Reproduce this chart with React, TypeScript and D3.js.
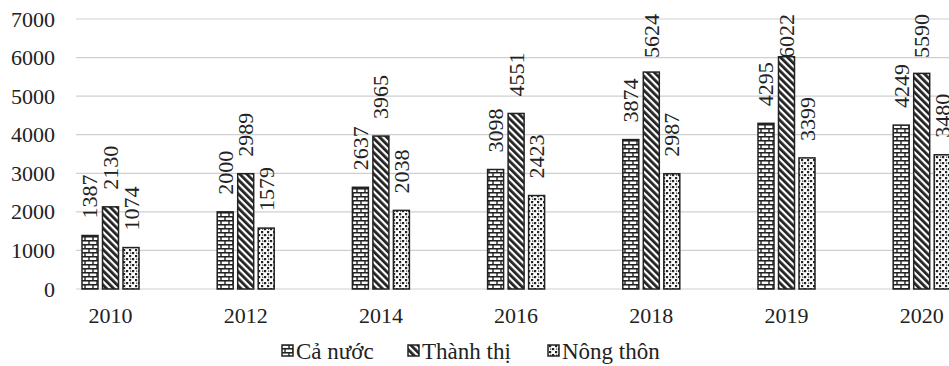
import React from "react";
import * as d3 from "d3";

const years = ["2010", "2012", "2014", "2016", "2018", "2019", "2020"];
const seriesNames = ["Cả nước", "Thành thị", "Nông thôn"];
const caNuoc = [1387, 2000, 2637, 3098, 3874, 4295, 4249];
const thanhThi = [2130, 2989, 3965, 4551, 5624, 6022, 5590];
const nongThon = [1074, 1579, 2038, 2423, 2987, 3399, 3480];
const yTicks = [0, 1000, 2000, 3000, 4000, 5000, 6000, 7000];

const W = 949;
const H = 366;
const FONT = "\"Liberation Serif\", \"DejaVu Serif\", serif";

export default function App() {
  const seriesValues = [caNuoc, thanhThi, nongThon];
  const y = d3.scaleLinear().domain([0, 7000]).range([289, 19]);
  const x = d3.scaleBand().domain(years).range([42.9, 42.9 + 7 * 135.2]).padding(0);
  const inner = d3.scaleBand().domain(seriesNames).range([-28.5, 28.5]).paddingInner(0.22).paddingOuter(0);
  const bw = inner.bandwidth();
  const patterns = ["pCa", "pTh", "pNo"];
  const legendX = [282, 408, 548];
  const txt = { fontFamily: FONT, fontSize: 22, fill: "#222" } as React.CSSProperties;

  return (
    <svg width={W} height={H} style={{ position: "absolute", left: 0, top: 0, background: "#fff" }}>
      <defs>
        <pattern id="pCa" width="8" height="8" patternUnits="userSpaceOnUse">
          <rect width="8" height="8" fill="#fff" />
          <line x1="0" y1="0.75" x2="8" y2="0.75" stroke="#222" strokeWidth="1.6" />
          <line x1="0" y1="4.75" x2="8" y2="4.75" stroke="#222" strokeWidth="1.6" />
          <line x1="1" y1="0" x2="1" y2="4.75" stroke="#222" strokeWidth="1.4" />
          <line x1="5" y1="4.75" x2="5" y2="8" stroke="#222" strokeWidth="1.4" />
        </pattern>
        <pattern id="pTh" width="5" height="5" patternUnits="userSpaceOnUse" patternTransform="rotate(-45)">
          <rect width="5" height="5" fill="#fff" />
          <rect x="0" y="0" width="2.8" height="5" fill="#222" />
        </pattern>
        <pattern id="pNo" width="6" height="6" patternUnits="userSpaceOnUse">
          <rect width="6" height="6" fill="#fff" />
          <rect x="0" y="0" width="2.2" height="2.2" fill="#222" />
          <rect x="3" y="3" width="2.2" height="2.2" fill="#222" />
          <rect x="4" y="0.5" width="1.3" height="1.3" fill="#444" />
        </pattern>
      </defs>

      {yTicks.map((t) => (
        <g key={t}>
          <line x1={76} x2={W} y1={y(t)} y2={y(t)} stroke="#cfcfcf" strokeWidth={1.2} />
          <text x={55} y={y(t)} textAnchor="end" dominantBaseline="central" style={txt}>
            {t}
          </text>
        </g>
      ))}

      {years.map((yr, i) => {
        const cx = (x(yr) as number) + x.bandwidth() / 2;
        return (
          <g key={yr}>
            {seriesNames.map((s, j) => {
              const v = seriesValues[j][i];
              const bx = cx + (inner(s) as number);
              const by = y(v);
              const ly = Math.max(by - 17, 58);
              return (
                <g key={s}>
                  <rect x={bx} y={by} width={bw} height={y(0) - by} fill={`url(#${patterns[j]})`} stroke="#222" strokeWidth={1.5} />
                  <text
                    transform={`translate(${bx + bw / 2},${ly}) rotate(-90)`}
                    textAnchor="start"
                    dominantBaseline="central"
                    style={txt}
                  >
                    {v}
                  </text>
                </g>
              );
            })}
            <text x={cx} y={315} textAnchor="middle" dominantBaseline="central" style={txt}>
              {yr}
            </text>
          </g>
        );
      })}

      {seriesNames.map((s, j) => (
        <g key={s}>
          <rect x={legendX[j]} y={345} width={11} height={11} fill={`url(#${patterns[j]})`} stroke="#222" strokeWidth={1.5} />
          <text x={legendX[j] + 14} y={351} dominantBaseline="central" style={{ ...txt, fontSize: 23 }}>
            {s}
          </text>
        </g>
      ))}
    </svg>
  );
}
